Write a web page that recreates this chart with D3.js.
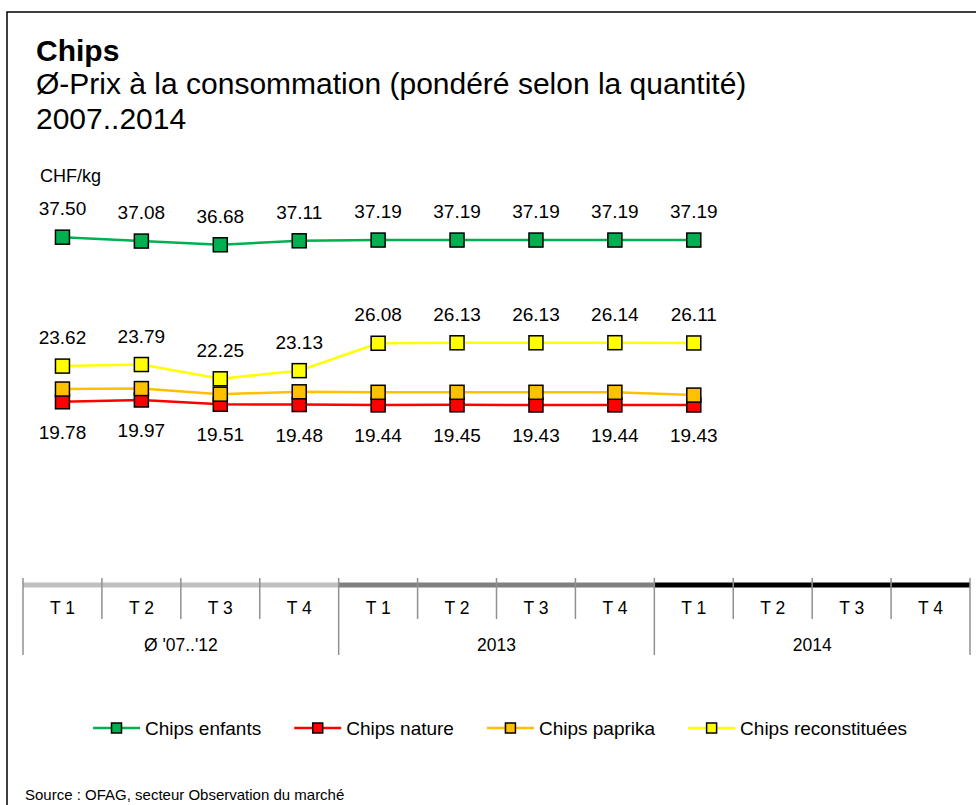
<!DOCTYPE html>
<html>
<head>
<meta charset="utf-8">
<script src="https://cdn.jsdelivr.net/npm/d3@7"></script>
<style>
  html, body { margin: 0; padding: 0; background: #fff; }
  svg { display: block; font-family: "Liberation Sans", Arial, sans-serif; }
</style>
</head>
<body>
<svg id="chart" width="976" height="805"></svg>
<script>
// Quarterly consumer prices, CHF/kg
const quarters = ["T 1", "T 2", "T 3", "T 4", "T 1", "T 2", "T 3", "T 4", "T 1", "T 2", "T 3", "T 4"];
const periods = ["Ø '07..'12", "2013", "2014"];
const periodColors = ["#c0c0c0", "#808080", "#000000"];

const seriesNames = ["Chips enfants", "Chips nature", "Chips paprika", "Chips reconstituées"];
const seriesColors = ["#00b050", "#ff0000", "#ffc000", "#ffff00"];

const enfants = [37.50, 37.08, 36.68, 37.11, 37.19, 37.19, 37.19, 37.19, 37.19];
const nature = [19.78, 19.97, 19.51, 19.48, 19.44, 19.45, 19.43, 19.44, 19.43];
const paprika = [21.15, 21.2, 20.6, 20.85, 20.8, 20.8, 20.8, 20.8, 20.5];
const reconstituees = [23.62, 23.79, 22.25, 23.13, 26.08, 26.13, 26.13, 26.14, 26.11];

// label placement per series: above, below or none
const labelPlacement = ["above", "below", "none", "above"];

const series = [enfants, nature, paprika, reconstituees].map((values, i) => ({
  name: seriesNames[i], color: seriesColors[i], values, label: labelPlacement[i]
}));

const svg = d3.select("#chart");

// frame
svg.append("rect")
  .attr("x", 7).attr("y", 12)
  .attr("width", 1000).attr("height", 820)
  .attr("fill", "none").attr("stroke", "#000").attr("stroke-width", 1.5);

// titles
svg.append("text").attr("x", 36).attr("y", 61)
  .attr("font-size", 30).attr("font-weight", "bold").text("Chips");
svg.append("text").attr("x", 36).attr("y", 94)
  .attr("font-size", 30).text("Ø-Prix à la consommation (pondéré selon la quantité)");
svg.append("text").attr("x", 36).attr("y", 129)
  .attr("font-size", 30).text("2007..2014");
svg.append("text").attr("x", 40).attr("y", 182)
  .attr("font-size", 18).text("CHF/kg");

// scales
const keys = quarters.map((q, i) => i);
const x = d3.scaleBand().domain(keys).range([23, 970]).padding(0);
const y = d3.scaleLinear().domain([0, 45]).range([585.5, 167.5]);
const cx = i => x(i) + x.bandwidth() / 2;

// category axis
const axisY = y(0) - 0.5;
const axis = svg.append("g");
periods.forEach((p, gi) => {
  const x0 = x(gi * 4), x1 = x(gi * 4 + 3) + x.bandwidth();
  axis.append("line")
    .attr("x1", x0).attr("x2", x1).attr("y1", axisY).attr("y2", axisY)
    .attr("stroke", periodColors[gi]).attr("stroke-width", 5);
  axis.append("text")
    .attr("x", (x0 + x1) / 2).attr("y", 651)
    .attr("text-anchor", "middle").attr("font-size", 17.5).text(p);
});
// tick separators
d3.range(13).forEach(k => {
  const xp = k < 12 ? x(k) : x(11) + x.bandwidth();
  const isGroup = k % 4 === 0;
  axis.append("line")
    .attr("x1", xp).attr("x2", xp)
    .attr("y1", 578).attr("y2", isGroup ? 655 : 619)
    .attr("stroke", "#909090").attr("stroke-width", 1.5);
});
quarters.forEach((q, i) => {
  axis.append("text")
    .attr("x", cx(i)).attr("y", 614)
    .attr("text-anchor", "middle").attr("font-size", 17.5).text(q);
});

// series lines and markers
const line = d3.line().x((d, i) => cx(i)).y(d => y(d));
const ms = 14;
series.forEach(s => {
  const g = svg.append("g");
  g.append("path").datum(s.values)
    .attr("d", line).attr("fill", "none")
    .attr("stroke", s.color).attr("stroke-width", 2.5);
  g.selectAll("rect").data(s.values).join("rect")
    .attr("x", (d, i) => cx(i) - ms / 2).attr("y", d => y(d) - ms / 2)
    .attr("width", ms).attr("height", ms)
    .attr("fill", s.color).attr("stroke", "#000").attr("stroke-width", 1.5);
});

// value labels
series.forEach(s => {
  if (s.label === "none") return;
  svg.append("g").selectAll("text").data(s.values).join("text")
    .attr("x", (d, i) => cx(i))
    .attr("y", d => s.label === "above" ? y(d) - 22 : y(d) + 37)
    .attr("text-anchor", "middle").attr("font-size", 19)
    .text(d => d.toFixed(2));
});

// legend
const legend = svg.append("g");
const items = series.map(s => {
  const g = legend.append("g");
  g.append("line").attr("x1", 0).attr("x2", 47).attr("y1", 0).attr("y2", 0)
    .attr("stroke", s.color).attr("stroke-width", 2.5);
  g.append("rect").attr("x", 18.5).attr("y", -5).attr("width", 10).attr("height", 10)
    .attr("fill", s.color).attr("stroke", "#000").attr("stroke-width", 1.5);
  const t = g.append("text").attr("x", 52).attr("y", 6.5)
    .attr("font-size", 19).text(s.name);
  return { g, w: 52 + t.node().getComputedTextLength() };
});
const gap = 33;
const total = d3.sum(items, d => d.w) + gap * (items.length - 1);
let lx = 500 - total / 2;
items.forEach(it => {
  it.g.attr("transform", `translate(${lx},728)`);
  lx += it.w + gap;
});

// source
svg.append("text").attr("x", 25).attr("y", 800)
  .attr("font-size", 15).text("Source : OFAG, secteur Observation du marché");
</script>
</body>
</html>
